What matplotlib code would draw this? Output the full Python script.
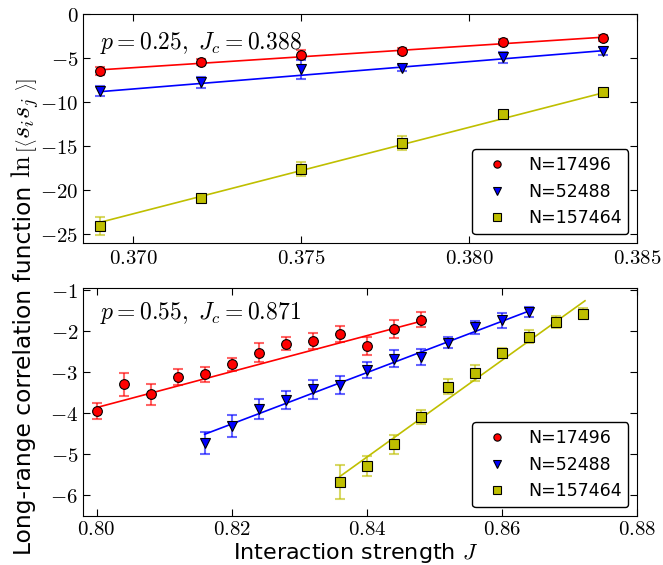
import matplotlib
matplotlib.use("Agg")
import matplotlib.pyplot as plt
import numpy as np
from matplotlib.ticker import FuncFormatter

plt.rcParams["mathtext.fontset"] = "cm"
plt.rcParams["font.family"] = ["DejaVu Sans"]

LABELS = ["N=17496", "N=52488", "N=157464"]
COLORS = ["#ff0000", "#0000ff", "#bfbf00"]
MARKERS = ["o", "v", "s"]

# p = 0.25 panel
top_x = [0.369, 0.372, 0.375, 0.378, 0.381, 0.384]
top_y = [
    [-6.45, -5.46, -4.6, -4.2, -3.17, -2.7],
    [-8.76, -7.76, -6.27, -6.15, -4.92, -4.16],
    [-24.1, -20.9, -17.6, -14.6, -11.4, -8.9],
]
top_err = [
    [0.45, 0.35, 0.5, 0.35, 0.3, 0.35],
    [0.55, 0.6, 1.1, 0.35, 0.6, 0.45],
    [1.0, 0.3, 0.75, 0.8, 0.3, 0.3],
]
# fitted lines, read at their two ends
top_fit_x = [[0.369, 0.384], [0.369, 0.384], [0.369, 0.384]]
top_fit_y = [[-6.34, -2.63], [-8.82, -4.16], [-23.66, -8.94]]

# p = 0.55 panel
bot_x = [
    [0.800, 0.804, 0.808, 0.812, 0.816, 0.820, 0.824, 0.828, 0.832, 0.836, 0.840, 0.844, 0.848],
    [0.816, 0.820, 0.824, 0.828, 0.832, 0.836, 0.840, 0.844, 0.848, 0.852, 0.856, 0.860, 0.864],
    [0.836, 0.840, 0.844, 0.848, 0.852, 0.856, 0.860, 0.864, 0.868, 0.872],
]
bot_y = [
    [-3.95, -3.29, -3.54, -3.11, -3.05, -2.81, -2.53, -2.31, -2.24, -2.07, -2.36, -1.95, -1.72],
    [-4.73, -4.30, -3.89, -3.68, -3.41, -3.31, -2.94, -2.67, -2.63, -2.28, -1.91, -1.74, -1.53],
    [-5.67, -5.29, -4.75, -4.10, -3.35, -3.02, -2.52, -2.13, -1.77, -1.57],
]
bot_err = [
    [0.19, 0.28, 0.26, 0.19, 0.18, 0.16, 0.23, 0.16, 0.19, 0.19, 0.23, 0.21, 0.18],
    [0.27, 0.27, 0.25, 0.22, 0.23, 0.21, 0.2, 0.21, 0.2, 0.14, 0.15, 0.18, 0.12],
    [0.41, 0.24, 0.23, 0.17, 0.19, 0.19, 0.12, 0.16, 0.15, 0.13],
]
bot_fit_x = [[0.800, 0.848], [0.816, 0.864], [0.836, 0.8723]]
bot_fit_y = [[-3.86, -1.76], [-4.51, -1.51], [-5.54, -1.26]]


def draw_series(ax, x, y, err, fx, fy, color, marker, label):
    ax.plot(fx, fy, color=color, lw=1.2, zorder=2)
    ax.errorbar(x, y, yerr=err, fmt="none", ecolor=color, alpha=0.6, capsize=3.5,
                elinewidth=1.5, capthick=1.5, zorder=3)
    ax.plot(x, y, ls="none", marker=marker, ms=7, mfc=color, mec="black", mew=0.8,
            label=label, zorder=4)


fig = plt.figure(figsize=(6.63, 5.65), dpi=100)
ax1 = fig.add_axes([0.1252, 0.5699, 0.8356, 0.4053])
ax2 = fig.add_axes([0.1252, 0.0867, 0.8356, 0.4035])

for i in range(3):
    draw_series(ax1, top_x, top_y[i], top_err[i], top_fit_x[i], top_fit_y[i],
                COLORS[i], MARKERS[i], LABELS[i])
    draw_series(ax2, bot_x[i], bot_y[i], bot_err[i], bot_fit_x[i], bot_fit_y[i],
                COLORS[i], MARKERS[i], LABELS[i])

ax1.set_xlim(0.3685, 0.385)
ax1.set_ylim(-26, 0)
ax1.set_xticks([0.370, 0.375, 0.380, 0.385])
ax1.set_yticks([0, -5, -10, -15, -20, -25])
ax1.xaxis.set_major_formatter(FuncFormatter(lambda v, p: f"${v:.3f}$"))
ax1.yaxis.set_major_formatter(FuncFormatter(lambda v, p: f"${v:g}$"))

ax2.set_xlim(0.798, 0.88)
ax2.set_ylim(-6.5, -0.95)
ax2.set_xticks([0.80, 0.82, 0.84, 0.86, 0.88])
ax2.set_yticks([-1, -2, -3, -4, -5, -6])
ax2.xaxis.set_major_formatter(FuncFormatter(lambda v, p: f"${v:.2f}$"))
ax2.yaxis.set_major_formatter(FuncFormatter(lambda v, p: f"${v:g}$"))

for ax in (ax1, ax2):
    ax.tick_params(direction="in", top=True, right=True, length=5, labelsize=15, pad=3.5)
    leg = ax.legend(loc="lower right", numpoints=1, fontsize=12.5, fancybox=True,
                    framealpha=1, edgecolor="black", markerscale=0.75)
    leg.get_frame().set_linewidth(1.0)
ax2.tick_params(axis="x", pad=2.5)

ax1.text(0.03, 0.875, r"$p=0.25,\ J_c=0.388$", transform=ax1.transAxes,
         fontsize=17, ha="left", va="center")
ax2.text(0.03, 0.89, r"$p=0.55,\ J_c=0.871$", transform=ax2.transAxes,
         fontsize=17, ha="left", va="center")

# y label: sans part and a larger math part, joined on one baseline
renderer = fig.canvas.get_renderer()
base_x, start_y = 31 / 663, 1 - 555 / 565
t1 = fig.text(base_x, start_y, "Long-range correlation function", rotation=90,
              rotation_mode="anchor", ha="left", va="baseline", fontsize=16.8)
h1 = t1.get_window_extent(renderer).height / fig.bbox.height
fig.text(base_x, start_y + h1 + 8 / 565,
         r"$\ln\left[\left\langle s_i s_j\genfrac{}{}{0}{}{\,}{\,}\right\rangle\right]$",
         rotation=90, rotation_mode="anchor", ha="left", va="baseline", fontsize=19)

fig.text(0.536, 1 - 559 / 565, r"Interaction strength $J$", ha="center", va="baseline",
         fontsize=16)

fig.savefig("out.png", dpi=100)
